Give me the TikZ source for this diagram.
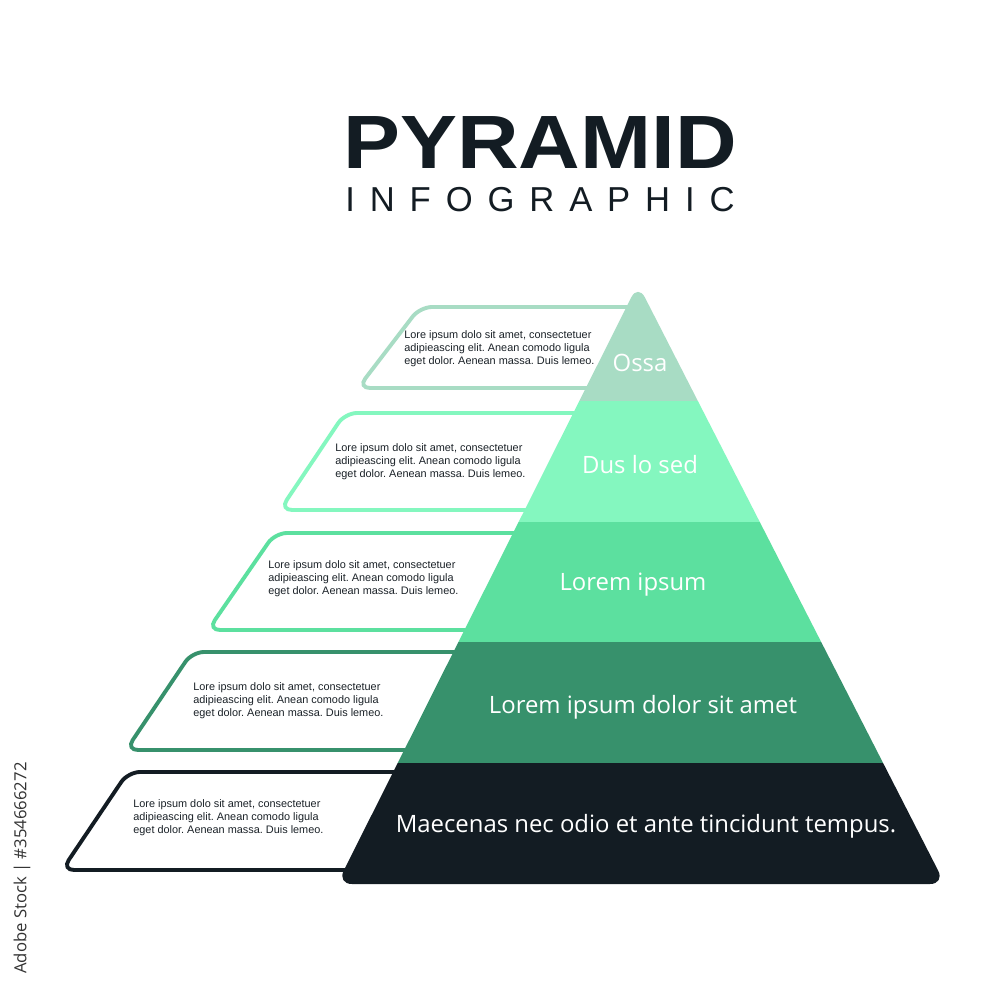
\documentclass[tikz,border=0pt]{standalone}
\usepackage{fontspec}
\setmainfont{Liberation Sans}
\newfontfamily\tierfont{Open Sans}
\usepackage{xcolor}
\usetikzlibrary{positioning}
\frenchspacing

\definecolor{ossa}{HTML}{A8DCC4}
\definecolor{dus}{HTML}{84F7BF}
\definecolor{lorem}{HTML}{5CE09F}
\definecolor{dolor}{HTML}{37916C}
\definecolor{navy}{HTML}{131C23}
\definecolor{bodyink}{HTML}{1B2228}

\begin{document}
\begin{tikzpicture}[
  x=0.02cm, y=-0.02cm,
  every node/.style={inner sep=0pt},
  outline/.style={line width=2.2pt, rounded corners=0.24cm, fill=white},
  blurb/.style={anchor=west, align=left, text=bodyink, font=\fontsize{6.2}{7.4}\selectfont},
  tier/.style={text=white, font=\tierfont\fontsize{13.6}{15}\selectfont}
]
\useasboundingbox[fill=white] (0,0) rectangle (1000,1000);

% Title
\node[anchor=west, text=navy, font=\bfseries\fontsize{43}{43}\selectfont] (title) at (343,143) {\scalebox{1.13}[1]{PYRAMID}};
\node[anchor=west, text=navy, font=\fontsize{19.7}{20}\selectfont\addfontfeature{LetterSpace=43}] (subtitle) at (345,200) {INFOGRAPHIC};

% Text boxes (behind the pyramid)
\draw[outline, draw=ossa]  (420,307) -- (640,307) -- (640,388) -- (358,388) -- cycle;
\draw[outline, draw=dus]   (345,413) -- (640,413) -- (640,510) -- (280,510) -- cycle;
\draw[outline, draw=lorem] (275,533) -- (640,533) -- (640,630) -- (208,630) -- cycle;
\draw[outline, draw=dolor] (192,652) -- (640,652) -- (640,750) -- (126,750) -- cycle;
\draw[outline, draw=navy]  (128,772) -- (640,772) -- (640,870) -- (62,870) -- cycle;

% Pyramid
\coordinate (apex) at (638,284);
\coordinate (baseL) at (337,884);
\coordinate (baseR) at (945,884);
\begin{scope}
  \clip[rounded corners=0.3cm] (apex) -- (baseR) -- (baseL) -- cycle;
  \fill[ossa]  (300,250) rectangle (1000,401);
  \fill[dus]   (300,401) rectangle (1000,522);
  \fill[lorem] (300,522) rectangle (1000,642);
  \fill[dolor] (300,642) rectangle (1000,763);
  \fill[navy]  (300,763) rectangle (1000,900);
\end{scope}

% Tier labels
\node[tier] (t1) at (640,363) {Ossa};
\node[tier] (t2) at (640,465) {Dus lo sed};
\node[tier] (t3) at (633,585) {Lorem ipsum};
\node[tier] (t4) at (643,707) {Lorem ipsum dolor sit amet};
\node[tier] (t5) at (646,826) {Maecenas nec odio et ante tincidunt tempus.};

% Box texts
\node[blurb] (b1) at (404,349) {Lore ipsum dolo sit amet, consectetuer\\adipieascing elit. Anean comodo ligula\\eget dolor. Aenean massa. Duis lemeo.};
\node[blurb] (b2) at (335,462) {Lore ipsum dolo sit amet, consectetuer\\adipieascing elit. Anean comodo ligula\\eget dolor. Aenean massa. Duis lemeo.};
\node[blurb] (b3) at (268,579) {Lore ipsum dolo sit amet, consectetuer\\adipieascing elit. Anean comodo ligula\\eget dolor. Aenean massa. Duis lemeo.};
\node[blurb] (b4) at (193,701) {Lore ipsum dolo sit amet, consectetuer\\adipieascing elit. Anean comodo ligula\\eget dolor. Aenean massa. Duis lemeo.};
\node[blurb] (b5) at (133,818) {Lore ipsum dolo sit amet, consectetuer\\adipieascing elit. Anean comodo ligula\\eget dolor. Aenean massa. Duis lemeo.};

% Side mark
\node[rotate=90, text=black!80, font=\tierfont\fontsize{9.5}{10}\selectfont] (stockmark) at (22,868) {Adobe Stock | \#354666272};

\end{tikzpicture}
\end{document}
